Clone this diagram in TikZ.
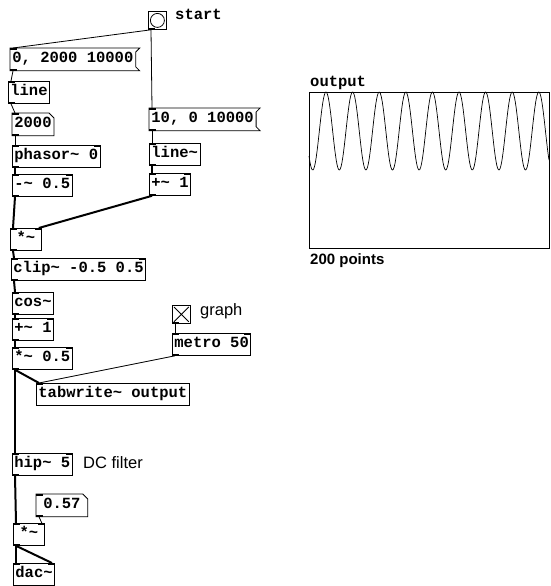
\documentclass[tikz,border=0pt]{standalone}
\usepackage{fontspec}
\setmonofont{Liberation Mono}
\setsansfont{Liberation Sans}
\usetikzlibrary{positioning}
\newcommand\pdtilde{\textasciitilde}
\newcommand\pdfont{\ttfamily\bfseries\fontsize{15.5}{18}\selectfont}

\begin{document}
\begin{tikzpicture}[x=1pt, y=-1pt,
  obj/.style={draw, line width=0.8pt, anchor=north west, inner xsep=2pt, inner ysep=4pt, text height=10pt, text depth=4pt,
    font=\pdfont},
  msg/.style={obj, draw=none, execute at end node=\hspace{4pt}},
  num/.style={obj, draw=none},
  gui/.style={draw, line width=0.8pt, anchor=north west, minimum size=18pt, inner sep=0pt},
  lbl/.style={anchor=base west, inner sep=0pt},
  ctl/.style={line width=0.8pt},
  sig/.style={line width=2pt}
]
\useasboundingbox (0,0) rectangle (550,586);

\node[gui] (start) at (148,11) {};
\node[lbl, font=\pdfont] (startlbl) at (175,20) {start};
\node[msg] (ramp) at (10,48) {0, 2000 10000};
\node[obj] (line) at (8,81) {line};
\node[num, minimum width=40pt] (freq) at (12,113) {2000};
\node[obj] (phasor) at (12,145) {phasor\pdtilde\ 0};
\node[obj] (sub) at (12,174) {-\pdtilde\ 0.5};
\node[msg] (fall) at (149,108) {10, 0 10000};
\node[obj] (linesig) at (149,143) {line\pdtilde};
\node[obj] (addone) at (149,173) {+\pdtilde\ 1};
\node[obj, minimum width=31pt] (mulA) at (10,228) {*\pdtilde};
\node[obj] (clip) at (11,258) {clip\pdtilde\ -0.5 0.5};
\node[obj] (cos) at (12,292) {cos\pdtilde};
\node[obj] (addtwo) at (12,318) {+\pdtilde\ 1};
\node[obj] (mulB) at (12,347) {*\pdtilde\ 0.5};
\node[gui] (graph) at (172,305) {};
\node[lbl, font=\sffamily\fontsize{16.5}{19}\selectfont] (graphlbl) at (200,315) {graph};
\node[obj] (metro) at (172,333) {metro 50};
\node[obj] (tabw) at (36,383) {tabwrite\pdtilde\ output};
\node[obj] (hip) at (12,453) {hip\pdtilde\ 5};
\node[lbl, font=\sffamily\fontsize{16.5}{19}\selectfont] (dclbl) at (83,468) {DC filter};
\node[num, minimum width=51pt] (gain) at (36,494) {0.57};
\node[obj, minimum width=31pt] (mulC) at (13,523) {*\pdtilde};
\node[obj] (dac) at (13,563) {dac\pdtilde};

% table
\node[lbl, font=\pdfont] (tabname) at (310,86) {output};
\node[lbl, font=\sffamily\bfseries\fontsize{15}{18}\selectfont] (tabsize) at (310,264) {200 points};
\draw[line width=0.8pt] (309,92) rectangle (549,248);
\draw[line width=0.7pt] plot[domain=309:549, samples=300] (\x, {170-39*(1+cos(13.534*(\x-326)))});

% box outlines
\draw[line width=0.8pt] (start.center) circle (7pt);
\draw[line width=0.8pt] ([shift={(2pt,-2pt)}]graph.north west) -- ([shift={(-2pt,2pt)}]graph.south east)
  ([shift={(-2pt,-2pt)}]graph.north east) -- ([shift={(2pt,2pt)}]graph.south west);
\foreach \n in {ramp,fall}
  \draw[line width=0.8pt] (\n.north west) -- (\n.north east) -- ([shift={(-4pt,-4pt)}]\n.north east)
    -- ([shift={(-4pt,4pt)}]\n.south east) -- (\n.south east) -- (\n.south west) -- cycle;
\foreach \n in {freq,gain}
  \draw[line width=0.8pt] (\n.north west) -- ([xshift=-5pt]\n.north east) -- ([yshift=-5pt]\n.north east)
    -- (\n.south east) -- (\n.south west) -- cycle;

% inlets and outlets
\foreach \n in {ramp,line,freq,phasor,sub,fall,linesig,addone,mulA,clip,cos,addtwo,mulB,metro,tabw,hip,gain,mulC,dac}
  \fill (\n.north west) rectangle ++(7,2);
\foreach \n in {start,ramp,line,freq,phasor,sub,fall,linesig,addone,mulA,clip,cos,addtwo,mulB,graph,metro,hip,gain,mulC}
  \fill (\n.south west) rectangle ++(7,-2);
\foreach \n in {phasor,sub,addone,mulA,clip,addtwo,mulB,metro,hip,mulC,dac}
  \fill (\n.north east) rectangle ++(-7,2);

% cords
\draw[ctl] ([xshift=3pt]start.south west) -- ([xshift=3pt]ramp.north west);
\draw[ctl] ([xshift=3pt]start.south west) -- ([xshift=3pt]fall.north west);
\draw[ctl] ([xshift=3pt]ramp.south west) -- ([xshift=3pt]line.north west);
\draw[ctl] ([xshift=3pt]line.south west) -- ([xshift=3pt]freq.north west);
\draw[ctl] ([xshift=3pt]freq.south west) -- ([xshift=3pt]phasor.north west);
\draw[sig] ([xshift=3pt]phasor.south west) -- ([xshift=3pt]sub.north west);
\draw[sig] ([xshift=3pt]sub.south west) -- ([xshift=3pt]mulA.north west);
\draw[ctl] ([xshift=3pt]fall.south west) -- ([xshift=3pt]linesig.north west);
\draw[sig] ([xshift=3pt]linesig.south west) -- ([xshift=3pt]addone.north west);
\draw[sig] ([xshift=3pt]addone.south west) -- ([xshift=-3pt]mulA.north east);
\draw[sig] ([xshift=3pt]mulA.south west) -- ([xshift=3pt]clip.north west);
\draw[sig] ([xshift=3pt]clip.south west) -- ([xshift=3pt]cos.north west);
\draw[sig] ([xshift=3pt]cos.south west) -- ([xshift=3pt]addtwo.north west);
\draw[sig] ([xshift=3pt]addtwo.south west) -- ([xshift=3pt]mulB.north west);
\draw[sig] ([xshift=3pt]mulB.south west) -- ([xshift=3pt]tabw.north west);
\draw[sig] ([xshift=3pt]mulB.south west) -- ([xshift=3pt]hip.north west);
\draw[ctl] ([xshift=3pt]graph.south west) -- ([xshift=3pt]metro.north west);
\draw[ctl] ([xshift=3pt]metro.south west) -- ([xshift=3pt]tabw.north west);
\draw[sig] ([xshift=3pt]hip.south west) -- ([xshift=3pt]mulC.north west);
\draw[ctl] ([xshift=3pt]gain.south west) -- ([xshift=-3pt]mulC.north east);
\draw[sig] ([xshift=3pt]mulC.south west) -- ([xshift=3pt]dac.north west);
\draw[sig] ([xshift=3pt]mulC.south west) -- ([xshift=-3pt]dac.north east);
\end{tikzpicture}
\end{document}
